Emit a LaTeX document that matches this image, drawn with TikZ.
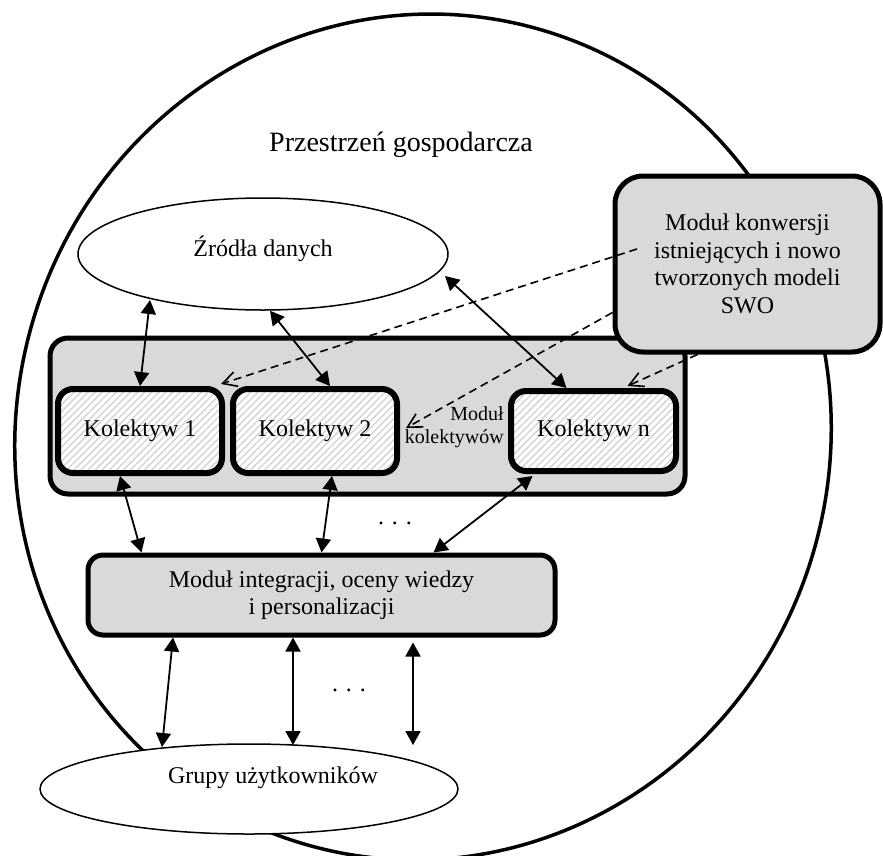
\documentclass[tikz,border=0pt]{standalone}
\usepackage{fontspec}
\setmainfont{Liberation Serif}
\usetikzlibrary{arrows.meta,patterns.meta,shapes.geometric}
\definecolor{boxgray}{HTML}{D9D9D9}
\definecolor{hatchgray}{HTML}{D2D2D2}
\begin{document}
\begin{tikzpicture}[x=1pt,y=1pt,
  txt/.style={font=\fontsize{24}{27.5}\selectfont, inner sep=0pt},
  graybox/.style={draw, line width=5pt, fill=boxgray, rounded corners=18pt, inner sep=0pt},
  kolbox/.style={draw, line width=6pt, rounded corners=15pt, inner sep=0pt,
     preaction={fill=white},
     preaction={pattern={Lines[angle=45,distance=5pt,line width=1.3pt]}, pattern color=hatchgray},
     font=\fontsize{24}{27.5}\selectfont},
  oval/.style={draw, ellipse, line width=1.5pt, fill=white, inner sep=0pt},
  biarr/.style={line width=1.8pt, {Triangle[length=14pt,width=15pt]}-{Triangle[length=14pt,width=15pt]}},
  dasharr/.style={line width=1.6pt, dash pattern=on 8pt off 5pt, -{Straight Barb[length=14pt,width=15pt]}},
]
\useasboundingbox (0,0) rectangle (883,-855);
% economic space
\draw[line width=3.5pt, rotate around={-15:(423,-437)}] (423,-437) ellipse [x radius=407, y radius=424];
\node[font=\fontsize{28}{32}\selectfont, inner sep=0pt] (title) at (401,-145) {Przestrzeń gospodarcza};

% data sources
\node[oval, minimum width=370, minimum height=112] (src) at (263,-254) {};
\node[txt] (srct) at (263,-249) {Źródła danych};

% collectives module
\node[graybox, minimum width=635, minimum height=156] (mk) at (367.5,-416) {};
\node[kolbox, minimum width=164, minimum height=84] (k1) at (140,-431) {Kolektyw 1};
\node[kolbox, minimum width=164, minimum height=84] (k2) at (315,-431) {Kolektyw 2};
\node[kolbox, minimum width=165, minimum height=80] (kn) at (593.5,-431) {Kolektyw n};
\node[font=\fontsize{20}{23}\selectfont, align=right, inner sep=0pt, anchor=east] (mkl) at (504,-427) {Moduł\\kolektywów};

% conversion module
\node[graybox, rounded corners=28pt, minimum width=265, minimum height=176, txt, align=center] (konw) at (747.5,-264) {Moduł konwersji\\istniejących i nowo\\tworzonych modeli\\SWO};

% integration module
\node[graybox, rounded corners=15pt, minimum width=467, minimum height=80, txt, align=center] (integ) at (321.5,-595) {Moduł integracji, oceny wiedzy\\i personalizacji};

% user groups
\node[oval, minimum width=418, minimum height=90] (users) at (249,-789) {};
\node[txt] (userst) at (273,-778) {Grupy użytkowników};

% dots
\node[txt] (dots1) at (395,-523) {. . .};
\node[txt] (dots2) at (349,-690) {. . .};

% solid arrows
\draw[biarr] ([shift={(-113,-46)}]src.center) -- (k1.north);
\draw[biarr] ([xshift=7pt]src.south) -- ([xshift=15pt]k2.north);
\draw[biarr] ([shift={(182,-22)}]src.center) -- ([xshift=-27pt]kn.north);
\draw[biarr] ([xshift=-20pt]k1.south) -- ([xshift=-180pt]integ.north);
\draw[biarr] ([xshift=17pt]k2.south) -- (integ.north);
\draw[biarr] ([xshift=-61pt,yshift=-2pt]kn.south) -- ([xshift=112pt]integ.north);
\draw[biarr] ([xshift=-148.5pt]integ.south) -- ([shift={(-87,42)}]users.center);
\draw[biarr] ([xshift=-28.5pt]integ.south) -- ([shift={(44,44)}]users.center);
\draw[biarr] ([xshift=91.5pt,yshift=-5pt]integ.south) -- ([shift={(164,44)}]users.center);

% dashed arrows
\draw[dasharr] ([shift={(-110.5,15)}]konw.center) -- ([xshift=-4pt,yshift=2pt]k1.north east);
\draw[dasharr] ([yshift=42pt]konw.south west) -- ([xshift=6pt,yshift=3pt]k2.east);
\draw[dasharr] ([xshift=-50pt]konw.south) -- ([xshift=34pt,yshift=2pt]kn.north);
\end{tikzpicture}
\end{document}
